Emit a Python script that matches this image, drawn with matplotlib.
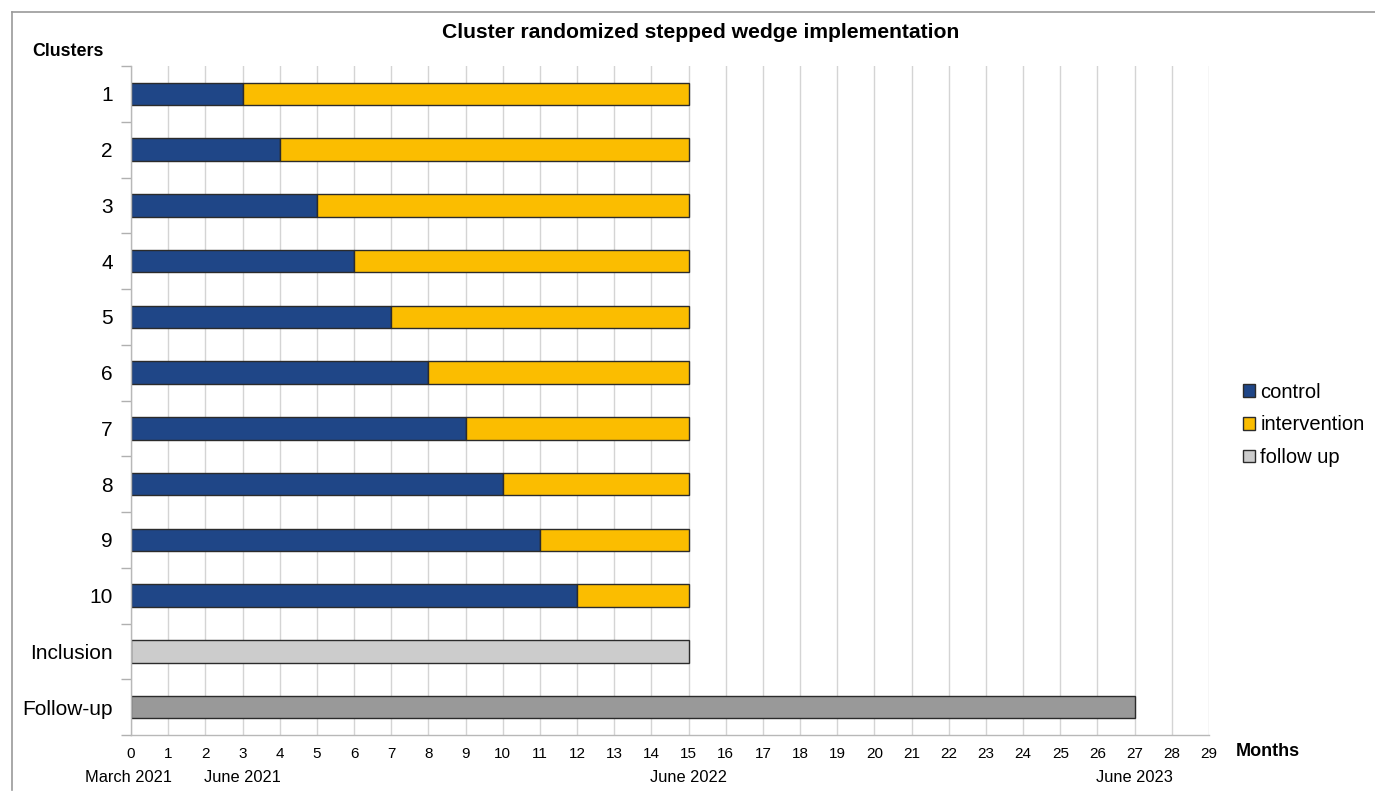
import matplotlib
matplotlib.use("Agg")
import matplotlib.pyplot as plt
from matplotlib.patches import Patch
from matplotlib.lines import Line2D

plt.rcParams['font.family'] = ['Liberation Sans', 'DejaVu Sans']

# Stepped wedge schedule (months from start)
clusters = ['1', '2', '3', '4', '5', '6', '7', '8', '9', '10']
control_months = [3, 4, 5, 6, 7, 8, 9, 10, 11, 12]
study_end = 15
inclusion_months = 15
followup_months = 27
row_labels = clusters + ['Inclusion', 'Follow-up']
month_ticks = list(range(0, 30))
date_months = [0, 3, 15, 27]
date_labels = ['March 2021', 'June 2021', 'June 2022', 'June 2023']

c_control = '#1f4687'
c_interv = '#fbbd00'
c_incl = '#cccccc'
c_follow = '#999999'
edge = '#2b2b2b'

fig = plt.figure(figsize=(13.75, 7.95), dpi=100)
ax = fig.add_axes([131/1375, 60/795, (1209-131)/1375, (735-66)/795])

h = 0.4
for i, c in enumerate(control_months):
    ax.barh(i, c, left=0, height=h, color=c_control, edgecolor=edge, linewidth=1, zorder=3)
    ax.barh(i, study_end - c, left=c, height=h, color=c_interv, edgecolor=edge, linewidth=1, zorder=3)
n = len(clusters)
ax.barh(n, inclusion_months, left=0, height=h, color=c_incl, edgecolor=edge, linewidth=1, zorder=3)
ax.barh(n + 1, followup_months, left=0, height=h, color=c_follow, edgecolor=edge, linewidth=1, zorder=3)

ax.set_xlim(0, 29)
ax.set_ylim(len(row_labels) - 0.5, -0.5)

ax.set_xticks(month_ticks)
ax.set_xticklabels([str(m) for m in month_ticks], fontsize=11)
ax.tick_params(axis='x', length=0, pad=9)
ax.xaxis.grid(True, color='#d4d4d4', linewidth=1, zorder=0)

ax.set_yticks(range(len(row_labels)))
ax.set_yticklabels(row_labels, fontsize=15)
ax.set_yticks([k - 0.5 for k in range(len(row_labels) + 1)], minor=True)
ax.tick_params(axis='y', which='major', length=0, pad=13)
ax.tick_params(axis='y', which='minor', length=7, color='#b0b0b0', width=1)

for s in ['top', 'right']:
    ax.spines[s].set_visible(False)
for s in ['left', 'bottom']:
    ax.spines[s].set_color('#b8b8b8')
    ax.spines[s].set_linewidth(1)
    ax.spines[s].set_zorder(4)

for m, lab in zip(date_months, date_labels):
    ax.annotate(lab, xy=(m, 0), xycoords=('data', 'axes fraction'),
                xytext=(-2 if m == 0 else 0, -30.5), textcoords='offset points',
                ha='center', va='center', fontsize=11.8)

fig.text(701/1375, 1 - 33/795, 'Cluster randomized stepped wedge implementation',
         ha='center', va='center', fontsize=15.2, fontweight='bold')
fig.text(68/1375, 1 - 52/795, 'Clusters', ha='center', va='center',
         fontsize=12.8, fontweight='bold')
fig.text(1268/1375, 1 - 751/795, 'Months', ha='center', va='center',
         fontsize=13, fontweight='bold')

handles = [Patch(facecolor=c_control, edgecolor=edge, label='control'),
           Patch(facecolor=c_interv, edgecolor=edge, label='intervention'),
           Patch(facecolor=c_incl, edgecolor=edge, label='follow up')]
fig.legend(handles=handles, loc='center left', bbox_to_anchor=(1235/1375, 1 - 425/795),
           frameon=False, fontsize=14.5, handlelength=0.6, handleheight=0.6,
           handletextpad=0.25, labelspacing=0.68, borderaxespad=0)

# Outer frame
fig.add_artist(Line2D([12/1375, 1], [1 - 12/795, 1 - 12/795], transform=fig.transFigure,
                      color='#9a9a9a', linewidth=1.2))
fig.add_artist(Line2D([12/1375, 12/1375], [1 - 12/795, 1 - 790/795], transform=fig.transFigure,
                      color='#9a9a9a', linewidth=1.2))

fig.savefig('out.png', dpi=100)
